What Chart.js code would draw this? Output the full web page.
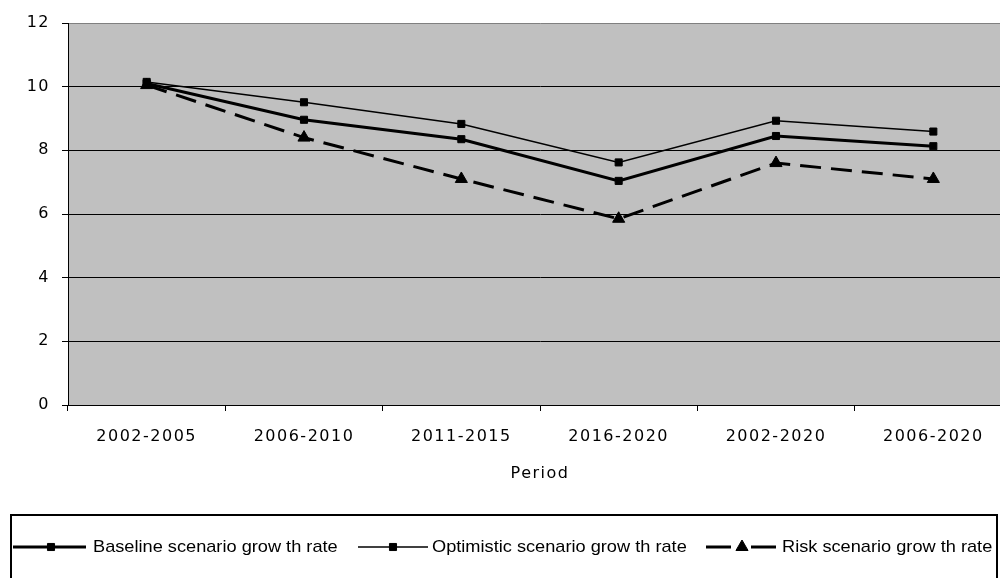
<!DOCTYPE html>
<html>
<head>
<meta charset="utf-8">
<script src="https://cdn.jsdelivr.net/npm/chart.js@4/dist/chart.umd.min.js"></script>
<style>
  html, body { margin: 0; padding: 0; background: #fff; }
  #wrap { width: 1000px; height: 578px; overflow: hidden; position: relative; }
  canvas { display: block; }
</style>
</head>
<body>
<div id="wrap"><canvas id="chart" width="1020" height="600"></canvas></div>
<script>
// Growth rate by period, per scenario
const periods = ['2002-2005', '2006-2010', '2011-2015', '2016-2020', '2002-2020', '2006-2020'];
const baselineGrowth = [10.1, 8.96, 8.35, 7.04, 8.45, 8.13];
const optimisticGrowth = [10.15, 9.51, 8.83, 7.62, 8.93, 8.59];
const riskGrowth = [10.05, 8.4, 7.1, 5.85, 7.6, 7.1];
const yTickValues = [0, 2, 4, 6, 8, 10, 12];
const seriesNames = ['Baseline scenario grow th rate', 'Optimistic scenario grow th rate', 'Risk scenario grow th rate'];
const xAxisTitle = 'Period';

const axisFont = { family: 'DejaVu Sans', size: 16 };

// Grey plot area and spaced axis lettering
const plotBackground = {
  id: 'plotBackground',
  beforeDraw(chart) {
    const { ctx, chartArea: a } = chart;
    ctx.save();
    ctx.fillStyle = '#c0c0c0';
    ctx.fillRect(a.left, a.top, a.right - a.left, a.bottom - a.top);
    ctx.restore();
    ctx.letterSpacing = '1.5px';
  }
};

// Boxed legend under the axis title
const boxedLegend = {
  id: 'boxedLegend',
  afterDraw(chart) {
    const ctx = chart.ctx;
    ctx.save();
    ctx.letterSpacing = '0px';
    ctx.strokeStyle = '#000';
    ctx.lineWidth = 2;
    ctx.strokeRect(11, 515, 986, 120);

    const y = 547;
    const slots = [
      { x0: 13, x1: 86, mx: 51, tx: 93 },
      { x0: 358, x1: 428, mx: 393, tx: 432 },
      { x0: 706, x1: 776, mx: 742, tx: 782 }
    ];
    chart.data.datasets.forEach((ds, i) => {
      const s = slots[i];
      ctx.strokeStyle = ds.borderColor;
      ctx.fillStyle = ds.pointBackgroundColor;
      ctx.lineWidth = ds.borderWidth;
      ctx.setLineDash([]);
      ctx.beginPath();
      if (ds.borderDash && ds.borderDash.length) {
        ctx.moveTo(s.x0, y); ctx.lineTo(s.mx - 11, y);
        ctx.moveTo(s.mx + 9, y); ctx.lineTo(s.x1, y);
      } else {
        ctx.moveTo(s.x0, y); ctx.lineTo(s.x1, y);
      }
      ctx.stroke();
      ctx.lineWidth = ds.pointBorderWidth;
      ctx.strokeStyle = ds.pointBorderColor;
      Chart.helpers.drawPoint(ctx, {
        pointStyle: ds.pointStyle,
        radius: ds.pointRadius,
        borderWidth: ds.pointBorderWidth,
        rotation: 0
      }, s.mx, y);
      ctx.save();
      ctx.translate(s.tx, y);
      ctx.scale(1.07, 1);
      ctx.fillStyle = '#000';
      ctx.font = '17px "Liberation Sans", Arial, sans-serif';
      ctx.textAlign = 'left';
      ctx.textBaseline = 'middle';
      ctx.fillText(ds.label, 0, 0);
      ctx.restore();
    });
    ctx.restore();
  }
};

new Chart(document.getElementById('chart'), {
  type: 'line',
  data: {
    labels: periods,
    datasets: [
      {
        label: seriesNames[0],
        data: baselineGrowth,
        borderColor: '#000',
        borderWidth: 3,
        pointStyle: 'rect',
        pointRadius: 5,
        pointBackgroundColor: '#000',
        pointBorderColor: '#000',
        pointBorderWidth: 1,
        tension: 0
      },
      {
        label: seriesNames[1],
        data: optimisticGrowth,
        borderColor: '#000',
        borderWidth: 1.5,
        pointStyle: 'rect',
        pointRadius: 5,
        pointBackgroundColor: '#000',
        pointBorderColor: '#000',
        pointBorderWidth: 1,
        tension: 0
      },
      {
        label: seriesNames[2],
        data: riskGrowth,
        borderColor: '#000',
        borderWidth: 3,
        borderDash: [21, 10],
        pointStyle: 'triangle',
        pointRadius: 7,
        pointBackgroundColor: '#000',
        pointBorderColor: '#000',
        pointBorderWidth: 1,
        tension: 0
      }
    ]
  },
  options: {
    responsive: false,
    devicePixelRatio: 1,
    animation: false,
    layout: { padding: { top: 23, left: 0, right: 8, bottom: 0 } },
    plugins: {
      legend: { display: false },
      tooltip: { enabled: false }
    },
    scales: {
      x: {
        type: 'category',
        offset: true,
        grid: {
          offset: true,
          drawOnChartArea: false,
          drawTicks: true,
          tickLength: 6,
          color: '#000'
        },
        border: { display: true, color: '#000', width: 1 },
        ticks: { font: axisFont, color: '#000', padding: 16, maxRotation: 0, autoSkip: false },
        title: {
          display: true,
          text: xAxisTitle,
          font: axisFont,
          color: '#000',
          padding: { top: 4, bottom: 117 }
        },
        afterFit(scale) { scale.height = 195; }
      },
      y: {
        min: 0,
        max: 12,
        afterBuildTicks(scale) { scale.ticks = yTickValues.map(v => ({ value: v })); },
        grid: {
          color: c => (c.tick && c.tick.value === 12 ? '#808080' : '#000'),
          tickColor: '#000',
          tickLength: 6,
          lineWidth: 1
        },
        border: { display: true, color: '#000', width: 1 },
        ticks: { font: axisFont, color: '#000', padding: 12 },
        afterFit(scale) { scale.width = 68; }
      }
    }
  },
  plugins: [plotBackground, boxedLegend]
});
</script>
</body>
</html>
